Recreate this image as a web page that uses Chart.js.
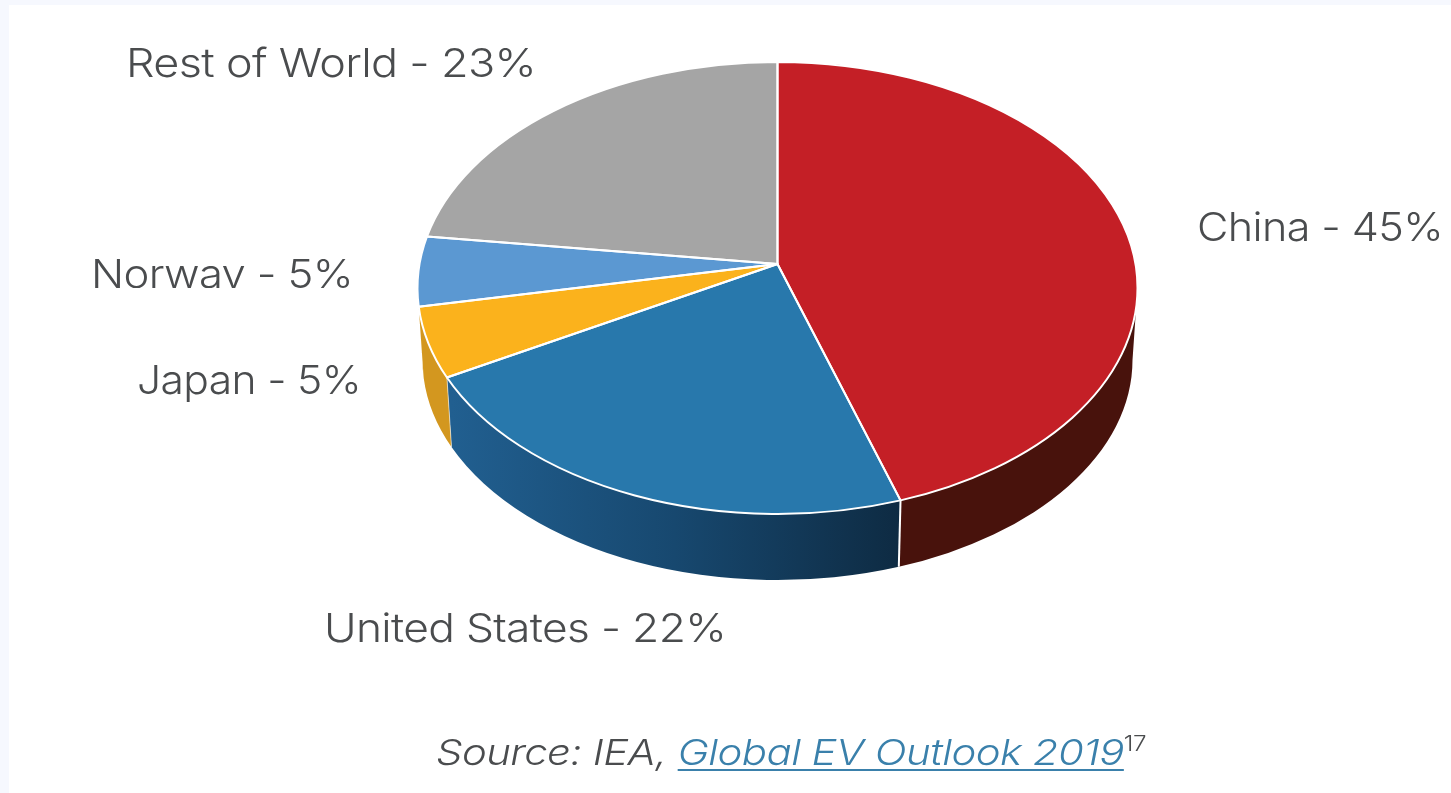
<!DOCTYPE html>
<html>
<head>
<meta charset="utf-8">
<script src="https://cdn.jsdelivr.net/npm/chart.js@4"></script>
<style>
html,body{margin:0;padding:0;width:1451px;height:793px;overflow:hidden;background:#f6f8fe}
#panel{position:absolute;left:9px;top:5px;width:1442px;height:788px;background:#fff}
#c{position:absolute;left:0;top:0}
.lbl{position:absolute;white-space:nowrap;font-family:Inter,sans-serif;font-weight:350;color:#4a4c4e;transform-origin:0 0;line-height:48px;height:48px;overflow:hidden;letter-spacing:-0.6px}
#src{font-style:italic;font-size:36px;letter-spacing:-0.5px}
#src a{color:#3a80ab;text-decoration:underline;text-underline-offset:4px;text-decoration-thickness:2px}
#src sup{font-size:21px;line-height:0;vertical-align:baseline;position:relative;top:-14px;font-style:normal}
</style>
</head>
<body>
<div id="panel"></div>
<canvas id="c" width="1451" height="793"></canvas>
<script>
const categories = ['China','United States','Japan','Norway','Rest of World'];
const shares = [45,22,5,5,23];
const topColors = ['#c41f26','#2878ac','#fbb21c','#5b98d2','#a5a5a5'];
const wallColors = ['#48120c',['#215f90','#17486f','#0e2b43'],'#d3971f','#d3971f','#a5a5a5'];
const seamWidths = [2,1,0,0,0];
const labelLeft = [1197,324,137,91,126];
const labelTop = [203,604,356,250,39];
const labelWidth = [246,402,224,262,410];
const labelHeight = [48,48,48,38,48];
const sourcePrefix = 'Source: IEA, ';
const sourceLink = 'Global EV Outlook 2019';
const sourceNote = '17';

const TILT = 226/360, OFFSET_Y = -72, PERSPECTIVE = -0.106;
const WALL_DROP = 72, WALL_RX = 355/360, WALL_RY = 220/226;

function param(theta){
  const x=Math.cos(theta), y=Math.sin(theta), d=1+PERSPECTIVE*y;
  return Math.atan2((y+PERSPECTIVE)/d, x*Math.sqrt(1-PERSPECTIVE*PERSPECTIVE)/d);
}
function unwrap(t,ref){ while(t<ref-1e-6) t+=Math.PI*2; return t; }

const tiltedPie = {
  id:'tiltedPie',
  beforeDatasetDraw(chart,args){
    const ctx=chart.ctx, arcs=chart.getDatasetMeta(args.index).data;
    const a0=arcs[0], cx=a0.x, rx=a0.outerRadius, ry=rx*TILT, cy=a0.y+OFFSET_Y;
    const brx=rx*WALL_RX, bry=ry*WALL_RY, bcy=cy+WALL_DROP;
    const spans=arcs.map(a=>{
      const t1=unwrap(param(a.startAngle),-Math.PI/2-1e-3);
      return [t1,unwrap(param(a.endAngle),t1)];
    });
    ctx.save();
    // side wall
    arcs.forEach((a,i)=>{
      const s=Math.max(spans[i][0],0), e=Math.min(spans[i][1],Math.PI);
      if(e<=s) return;
      ctx.beginPath();
      ctx.ellipse(cx,cy,rx,ry,0,s,e);
      ctx.ellipse(cx,bcy,brx,bry,0,e,s,true);
      ctx.closePath();
      const col=wallColors[i];
      if(Array.isArray(col)){
        const x1=cx+brx*Math.cos(e), x2=cx+brx*Math.cos(s);
        const g=ctx.createLinearGradient(x1,0,x2,0);
        col.forEach((c,k)=>g.addColorStop(k/(col.length-1),c));
        ctx.fillStyle=g;
      } else ctx.fillStyle=col;
      ctx.fill();
    });
    arcs.forEach((a,i)=>{
      if(!seamWidths[i]) return;
      const t=spans[i][1];
      ctx.beginPath();
      ctx.moveTo(cx+rx*Math.cos(t),cy+ry*Math.sin(t));
      ctx.lineTo(cx+brx*Math.cos(t),bcy+bry*Math.sin(t));
      ctx.strokeStyle=seamWidths[i]>1?'#ffffff':'rgba(255,255,255,.55)';
      ctx.lineWidth=seamWidths[i];
      ctx.stroke();
    });
    // top face
    const apexY=cy+PERSPECTIVE*ry;
    arcs.forEach((a,i)=>{
      ctx.beginPath();
      ctx.moveTo(cx,apexY);
      ctx.ellipse(cx,cy,rx,ry,0,spans[i][0],spans[i][1]);
      ctx.closePath();
      ctx.fillStyle=a.options.backgroundColor;
      ctx.fill();
    });
    ctx.strokeStyle='#ffffff'; ctx.lineWidth=2; ctx.lineJoin='round';
    arcs.forEach((a,i)=>{
      ctx.beginPath();
      ctx.moveTo(cx,apexY);
      ctx.ellipse(cx,cy,rx,ry,0,spans[i][0],spans[i][1]);
      ctx.closePath();
      ctx.stroke();
    });
    ctx.restore();
    return false;
  }
};

new Chart(document.getElementById('c'),{
  type:'pie',
  data:{labels:categories,datasets:[{data:shares,backgroundColor:topColors,borderWidth:0}]},
  options:{
    responsive:false,animation:false,events:[],
    layout:{padding:{left:417,right:313,top:0,bottom:73}},
    plugins:{legend:{display:false},tooltip:{enabled:false}}
  },
  plugins:[tiltedPie]
});

function fit(el,w){ el.style.transform='scaleX('+(w/el.getBoundingClientRect().width)+')'; }
categories.forEach((name,i)=>{
  const d=document.createElement('div');
  d.className='lbl';
  d.textContent=name+' - '+shares[i]+'%';
  d.style.left=labelLeft[i]+'px';
  d.style.top=labelTop[i]+'px';
  d.style.height=labelHeight[i]+'px';
  d.style.fontSize='40px';
  document.body.appendChild(d);
  fit(d,labelWidth[i]);
});
const s=document.createElement('div');
s.className='lbl'; s.id='src';
s.style.left='436px'; s.style.top='728px';
s.append(sourcePrefix);
const a=document.createElement('a'); a.textContent=sourceLink; s.appendChild(a);
const n=document.createElement('sup'); n.textContent=sourceNote; s.appendChild(n);
document.body.appendChild(s);
fit(s,710);
</script>
</body>
</html>
